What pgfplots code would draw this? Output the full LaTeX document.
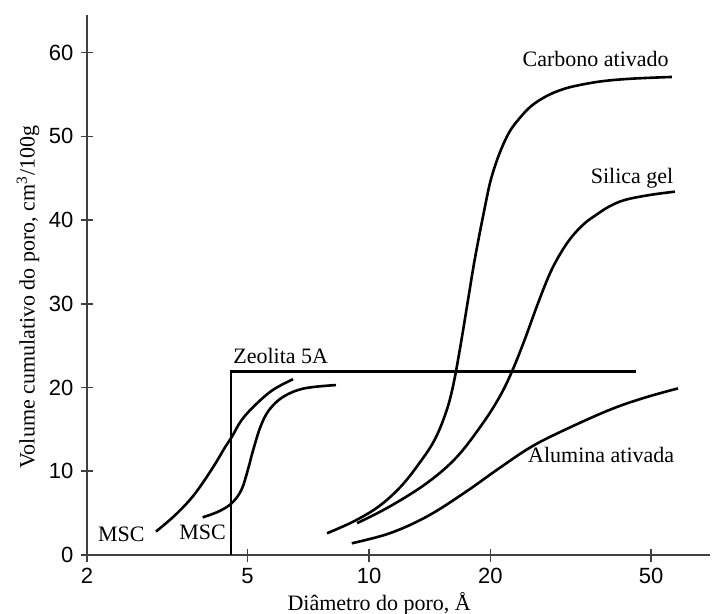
\documentclass[border=0pt]{standalone}
\usepackage{fontspec}
\setmainfont{Liberation Serif}
\newfontfamily\sansfont{Liberation Sans}
\usepackage{pgfplots}
\pgfplotsset{compat=1.18}

\begin{document}
\begin{tikzpicture}
\begin{axis}[
  scale only axis, width=311.5pt, height=270pt,
  xmode=log, xmin=2, xmax=70, ymin=0, ymax=64.5,
  axis lines=left, axis line style={-, line width=0.8pt, black!75},
  xtick={2,5,10,20,50}, xticklabels={2,5,10,20,50}, xminorticks=false,
  ytick={0,10,...,60},
  major tick length=6.5pt, tick style={line width=0.8pt, black!75},
  tick label style={font=\sansfont\fontsize{11}{13}\selectfont},
  /pgf/number format/assume math mode=true,
  xlabel={Diâmetro do poro, Å},
  ylabel={Volume cumulativo do poro, cm\textsuperscript{3}/100g},
  label style={font=\fontsize{11}{13}\selectfont},
  xlabel style={at={(axis description cs:0.469,-0.0907)}, anchor=center},
  ylabel style={at={(axis description cs:-0.0947,0.478)}, anchor=center},
  every axis plot/.append style={black, line width=1.3pt, smooth, tension=0.6},
  clip=false,
]
  % Carbono ativado
  \addplot[] coordinates {(7.87,2.6)(9.15,4.0)(10.57,5.8)(12.0,8.2)(13.34,11.0)(14.52,13.7)
    (15.48,16.9)(16.14,20.1)(16.84,24.9)(17.6,30.5)(18.33,35.6)(19.53,42.4)(20.14,45.2)
    (21.07,48.0)(22.2,50.4)(23.45,52.0)(25.2,53.6)(27.5,54.8)(30.1,55.6)(33.0,56.1)
    (38.0,56.6)(45.0,56.9)(56.3,57.1)};
  % Silica gel
  \addplot[] coordinates {(9.34,3.8)(11.26,5.8)(13.92,8.6)(16.5,11.7)(19.12,15.7)(21.07,18.9)
    (22.6,21.9)(24.3,25.7)(26.1,29.8)(28.0,33.5)(29.8,36.0)(31.8,38.0)(34.2,39.6)(36.5,40.6)
    (39.3,41.6)(43.0,42.4)(49.6,43.0)(57.3,43.4)};
  % Alumina ativada
  \addplot[] coordinates {(9.06,1.4)(11.26,2.6)(13.92,4.6)(17.2,7.4)(21.07,10.4)(25.2,12.9)
    (30.1,14.8)(39.3,17.3)(47.9,18.75)(58.3,19.9)};
  % MSC
  \addplot[] coordinates {(2.965,2.8)(3.28,4.6)(3.60,6.6)(3.87,8.6)(4.17,11.0)(4.40,12.9)
    (4.57,14.1)(4.83,16.1)(5.22,17.9)(5.77,19.7)(6.48,21.0)};
  \addplot[] coordinates {(3.87,4.5)(4.24,5.2)(4.57,6.2)(4.83,7.8)(5.01,10.2)(5.16,12.5)
    (5.38,15.3)(5.65,17.3)(6.13,18.9)(6.91,19.9)(8.28,20.3)};
  % Zeolita 5A
  \addplot[sharp plot, line width=1.2pt] coordinates {(4.55,0)(4.55,21.9)(45.8,21.9)};

  \begin{scope}[every node/.style={inner sep=0pt, font=\fontsize{11}{13}\selectfont}]
    \node[anchor=base east] at (axis cs:55.4,58.3) {Carbono ativado};
    \node[anchor=base east] at (axis cs:56.9,44.4) {Silica gel};
    \node[anchor=base east] at (axis cs:57.2,11.0) {Alumina ativada};
    \node[anchor=base west] at (axis cs:4.60,22.9) {Zeolita 5A};
    \node[anchor=base west] at (axis cs:2.126,1.6) {MSC};
    \node[anchor=base west] at (axis cs:3.38,1.9) {MSC};
  \end{scope}

  \coordinate (sw) at (rel axis cs:0,0);
  \coordinate (ne) at (rel axis cs:1,1);
\end{axis}
\pgfresetboundingbox
\path[use as bounding box] ([shift={(-43.5pt,-29pt)}]sw) rectangle ([shift={(4pt,7.5pt)}]ne);
\end{tikzpicture}
\end{document}
